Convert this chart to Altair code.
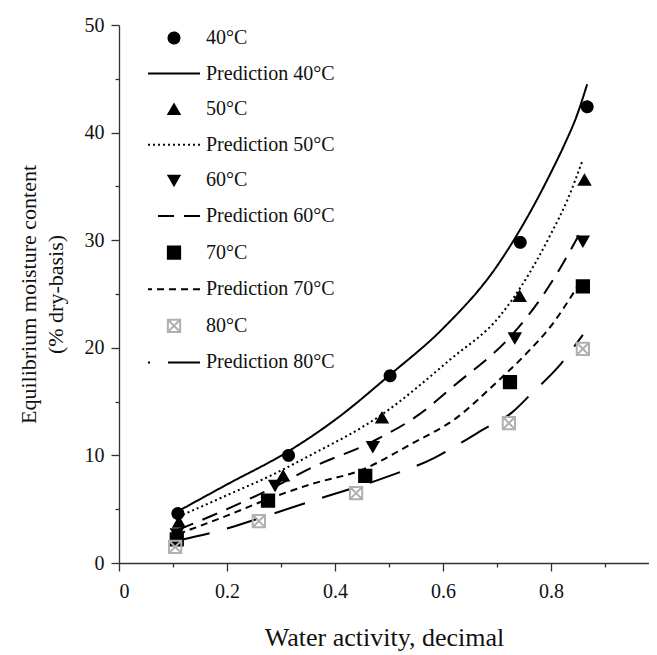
import altair as alt
import pandas as pd

# ---------------- data ----------------
series = ["40°C", "Prediction 40°C", "50°C", "Prediction 50°C", "60°C",
          "Prediction 60°C", "70°C", "Prediction 70°C", "80°C", "Prediction 80°C"]

# observed points
aw40 = [0.109, 0.314, 0.502, 0.743, 0.867]
emc40 = [4.6, 10.0, 17.4, 29.8, 42.4]
aw50 = [0.111, 0.304, 0.487, 0.742, 0.862]
emc50 = [3.8, 8.1, 13.5, 24.8, 35.6]
aw60 = [0.107, 0.289, 0.470, 0.733, 0.859]
emc60 = [2.7, 7.2, 10.8, 20.9, 29.9]
aw70 = [0.107, 0.276, 0.456, 0.724, 0.859]
emc70 = [2.2, 5.8, 8.1, 16.8, 25.7]
aw80 = [0.104, 0.259, 0.439, 0.722, 0.859]
emc80 = [1.5, 3.9, 6.5, 13.0, 19.9]

# predicted curves
p40_aw = [0.109, 0.2, 0.311, 0.4, 0.502, 0.6, 0.7, 0.75, 0.8, 0.825, 0.848, 0.867]
p40_emc = [4.8, 7.3, 10.3, 13.3, 17.5, 21.8, 27.6, 31.6, 36.3, 38.9, 41.6, 44.5]
p50_aw = [0.11, 0.2, 0.28, 0.354, 0.487, 0.613, 0.706, 0.746, 0.8, 0.83, 0.859]
p50_emc = [4.3, 6.3, 8.1, 10.0, 13.8, 18.9, 23.0, 25.8, 30.6, 33.7, 37.5]
p60_aw = [0.11, 0.2, 0.293, 0.354, 0.47, 0.55, 0.626, 0.724, 0.78, 0.817, 0.855]
p60_emc = [3.1, 5.0, 7.2, 8.8, 11.3, 13.6, 16.7, 21.0, 24.5, 27.4, 30.8]
p70_aw = [0.11, 0.2, 0.274, 0.354, 0.452, 0.539, 0.628, 0.693, 0.755, 0.798, 0.848]
p70_emc = [2.7, 4.4, 5.9, 7.3, 8.7, 11.0, 13.6, 16.5, 19.5, 21.9, 25.6]
p80_aw = [0.11, 0.193, 0.28, 0.372, 0.496, 0.585, 0.631, 0.674, 0.728, 0.765, 0.813, 0.859]
p80_emc = [2.1, 3.1, 4.5, 6.0, 8.0, 9.8, 11.1, 12.4, 14.0, 15.8, 18.2, 21.2]

obs_sets = [("40°C", aw40, emc40), ("50°C", aw50, emc50), ("60°C", aw60, emc60),
            ("70°C", aw70, emc70), ("80°C", aw80, emc80)]
pred_sets = [("Prediction 40°C", p40_aw, p40_emc), ("Prediction 50°C", p50_aw, p50_emc),
             ("Prediction 60°C", p60_aw, p60_emc), ("Prediction 70°C", p70_aw, p70_emc),
             ("Prediction 80°C", p80_aw, p80_emc)]

obs = pd.DataFrame([{"series": s, "aw": a, "emc": e}
                    for s, xs, ys in obs_sets for a, e in zip(xs, ys)])
pred = pd.DataFrame([{"series": s, "aw": a, "emc": e}
                     for s, xs, ys in pred_sets for a, e in zip(xs, ys)])

# ---------------- styles ----------------
SYM = 120  # symbol area; custom paths are scaled by sqrt(SYM)/2
LINE = "M4.75,0H-4.75"
SQ = "M-1.12,-1.12H1.12V1.12H-1.12Z"
XSQ = "M-1.12,-1.12H1.12V1.12H-1.12Z M-1.12,-1.12L1.12,1.12 M1.12,-1.12L-1.12,1.12"
shape_range = ["circle", LINE, "triangle-up", LINE, "triangle-down", LINE, SQ, LINE, XSQ, LINE]
fill_range = ["black", "transparent", "black", "transparent", "black", "transparent",
              "black", "transparent", "transparent", "transparent"]
stroke_range = ["black"] * 8 + ["#b0b0b0", "black"]
dash_range = [[1, 0], [1, 0], [1, 0], [2, 3], [1, 0], [16, 10], [1, 0], [7, 5], [1, 0], [32, 18]]

FONT = "Liberation Serif"
XMAX = 530 / 540  # the reference's right edge is cut by the window

x_axis = alt.Axis(
    title="Water activity, decimal",
    values=[0, 0.1, 0.2, 0.3, 0.4, 0.5, 0.6, 0.7, 0.8, 0.9],
    labelExpr="round(datum.value*10) % 2 == 0 ? format(datum.value, '~g') : ''",
    tickSize={"condition": {"test": "round(datum.value*10) % 2 == 0", "value": 8}, "value": 4},
    grid=False, labelPadding=10, titlePadding=23, titleFontSize=26,
)
y_axis = alt.Axis(
    title=["Equilibrium moisture content", "(% dry-basis)"],
    values=[0, 5, 10, 15, 20, 25, 30, 35, 40, 45, 50],
    labelExpr="datum.value % 10 == 0 ? datum.label : ''",
    tickSize={"condition": {"test": "datum.value % 10 == 0", "value": 8}, "value": 4},
    grid=False, labelPadding=7, titlePadding=17, titleLineHeight=27, titleFontSize=22,
)

xs = alt.Scale(domain=[0, XMAX], nice=False, zero=False)
ys = alt.Scale(domain=[0, 50], nice=False, zero=False)

legend = alt.Legend(
    title=None, orient="none", legendX=45, legendY=3, direction="vertical",
    labelFont=FONT, labelFontSize=20, labelColor="#111", labelOffset=22,
    rowPadding=15.6, padding=0, symbolStrokeWidth=2, symbolSize=SYM,
)

dash_enc = alt.StrokeDash("series:N", scale=alt.Scale(domain=series, range=dash_range), legend=legend)

points = alt.Chart(obs).mark_point(opacity=1, size=SYM, clip=True).encode(
    x=alt.X("aw:Q", scale=xs, axis=x_axis),
    y=alt.Y("emc:Q", scale=ys, axis=y_axis),
    shape=alt.Shape("series:N", scale=alt.Scale(domain=series, range=shape_range), legend=legend),
    fill=alt.Fill("series:N", scale=alt.Scale(domain=series, range=fill_range), legend=legend),
    stroke=alt.Stroke("series:N", scale=alt.Scale(domain=series, range=stroke_range), legend=legend),
    strokeDash=dash_enc,
)

lines = alt.Chart(pred).mark_line(color="black", strokeWidth=2, clip=True,
                                  interpolate="monotone").encode(
    x=alt.X("aw:Q", scale=xs, axis=x_axis),
    y=alt.Y("emc:Q", scale=ys, axis=y_axis),
    strokeDash=dash_enc,
)

chart = alt.layer(lines, points).properties(
    width=530, height=538,
    autosize=alt.AutoSizeParams(type="none"),
    padding={"left": 111, "top": 17, "right": 0, "bottom": 90},
).configure_view(strokeWidth=0).configure_axis(
    labelFont=FONT, labelFontSize=20, labelColor="#111",
    titleFont=FONT, titleFontWeight="normal", titleColor="#111",
    domainColor="#333", tickColor="#333", domainWidth=1.3, tickWidth=1.3,
)

chart.save("out.html", embed_options={"renderer": "svg", "actions": False})
